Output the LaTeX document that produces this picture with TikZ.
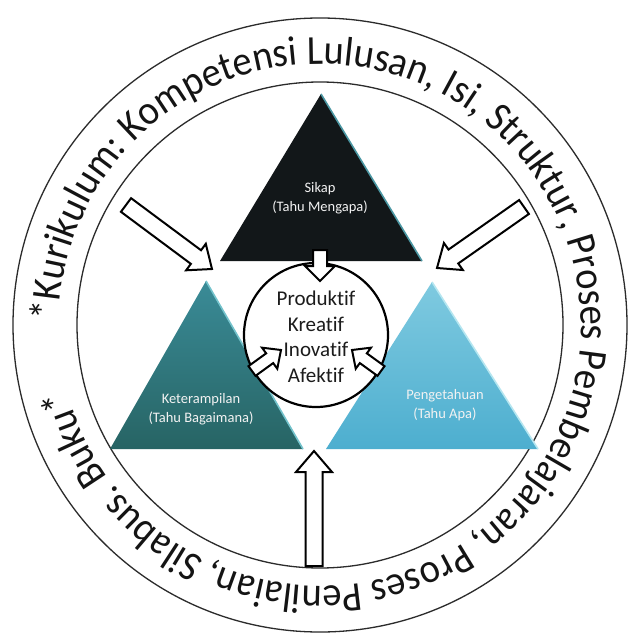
\documentclass[tikz,border=0pt]{standalone}
\usepackage{fontspec}
\setmainfont{Carlito}[Ligatures=NoCommon]
\newfontfamily\ringfont{Carlito}[Ligatures=NoCommon, FakeStretch=0.93]
\usetikzlibrary{calc,decorations.text}

\definecolor{inkline}{HTML}{2B2B2B}
\definecolor{sikapfill}{HTML}{121719}
\definecolor{sikapedge}{HTML}{4B97A3}
\definecolor{ketertop}{HTML}{3A8B97}
\definecolor{keterbot}{HTML}{276464}
\definecolor{keteredge}{HTML}{74C3CC}
\definecolor{pengtop}{HTML}{7FCAE0}
\definecolor{pengbot}{HTML}{4DAECF}
\definecolor{pengedge}{HTML}{B5E6F0}
\definecolor{labeltext}{HTML}{F2F2F2}
\definecolor{coretext}{HTML}{1C1C1C}

\tikzset{
  ringline/.style={draw=inkline, line width=1.3bp},
  blockarrowstyle/.style={draw=black, fill=white, line width=2bp, line join=miter},
  pyrlabel/.style={text=labeltext, align=center, inner sep=0pt,
    font=\fontsize{14.5bp}{18.5bp}\selectfont},
  corelabel/.style={text=coretext, align=center, inner sep=0pt,
    font=\fontsize{21bp}{25.5bp}\selectfont},
}

% block arrow: name, tail, tip, shaft half width, head half width, head length
\newcommand\blockarrow[6]{%
  \coordinate (#1-neck) at ($(#3)!#6!(#2)$);
  \draw[blockarrowstyle]
    ($(#2)!#4!90:(#3)$) -- ($(#1-neck)!#4!90:(#3)$) -- ($(#1-neck)!#5!90:(#3)$)
    -- (#3)
    -- ($(#1-neck)!#5!-90:(#3)$) -- ($(#1-neck)!#4!-90:(#3)$) -- ($(#2)!#4!-90:(#3)$)
    -- cycle;
}

\begin{document}
\begin{tikzpicture}[x=1bp, y=-1bp]
  \fill[white] (0,0) rectangle (630,635);
  \useasboundingbox (0,0) rectangle (630,635);

  % outer band with the curriculum text
  \coordinate (ringc) at (320,325);
  \draw[ringline] (ringc) circle[radius=307];
  \draw[ringline] (ringc) circle[radius=243];
  \path[decorate, decoration={text along path, text color=black!92,
      text={|\ringfont\fontsize{41.3bp}{43bp}\selectfont|*Kurikulum: Kompetensi Lulusan, Isi, Struktur, Proses Pembelajaran, Proses Penilaian, Silabus. Buku*}}]
    (ringc) ++(-179:261) arc[start angle=-179, end angle=181, radius=261];

  % three pyramids
  \coordinate (sA) at (321,94);  \coordinate (sL) at (220,261); \coordinate (sR) at (422,261);
  \coordinate (kA) at (206,281); \coordinate (kL) at (110,449); \coordinate (kR) at (303,449);
  \coordinate (pA) at (432,282); \coordinate (pL) at (326,449); \coordinate (pR) at (538,449);

  \fill[sikapfill] (sA) -- (sL) -- (sR) -- cycle;
  \draw[sikapedge, line width=1.6bp] (sA) -- (sR);
  \shade[top color=ketertop, bottom color=keterbot] (kA) -- (kL) -- (kR) -- cycle;
  \draw[keteredge, line width=1.6bp] (kA) -- (kR);
  \shade[top color=pengtop, bottom color=pengbot] (pA) -- (pL) -- (pR) -- cycle;
  \draw[pengedge, line width=1.6bp] (pA) -- (pR);

  \node[pyrlabel] (sikap) at (320,198) {Sikap\\(Tahu Mengapa)};
  \node[pyrlabel] (keter) at (201,409) {Keterampilan\\(Tahu Bagaimana)};
  \node[pyrlabel] (penget) at (445,405) {Pengetahuan\\(Tahu Apa)};

  % arrows from the band towards the centre
  \coordinate (nwTail) at (126,205); \coordinate (nwTip) at (212,269);
  \coordinate (neTail) at (524,207); \coordinate (neTip) at (437,268);
  \coordinate (sTail) at (314,566);  \coordinate (sTip) at (314,451);
  \blockarrow{nw}{nwTail}{nwTip}{8.5bp}{16.5bp}{20bp}
  \blockarrow{ne}{neTail}{neTip}{8.5bp}{16.5bp}{20bp}
  \blockarrow{up}{sTail}{sTip}{8.5bp}{18bp}{21bp}

  % central circle
  \node[circle, draw=black, fill=white, line width=2.2bp, minimum size=144bp, inner sep=0pt]
    (core) at (316,335) {};

  % arrows from the pyramids into the circle
  \coordinate (dTail) at (320,250); \coordinate (dTip) at (320,281);
  \coordinate (lTail) at (252,371); \coordinate (lTip) at (281,350);
  \coordinate (rTail) at (381,371); \coordinate (rTip) at (352,350);
  \blockarrow{down}{dTail}{dTip}{7bp}{15bp}{15bp}
  \blockarrow{left}{lTail}{lTip}{6bp}{13bp}{14bp}
  \blockarrow{right}{rTail}{rTip}{6bp}{13bp}{14bp}

  \node[corelabel] (values) at (316,337) {Produktif\\Kreatif\\Inovatif\\Afektif};
\end{tikzpicture}
\end{document}
